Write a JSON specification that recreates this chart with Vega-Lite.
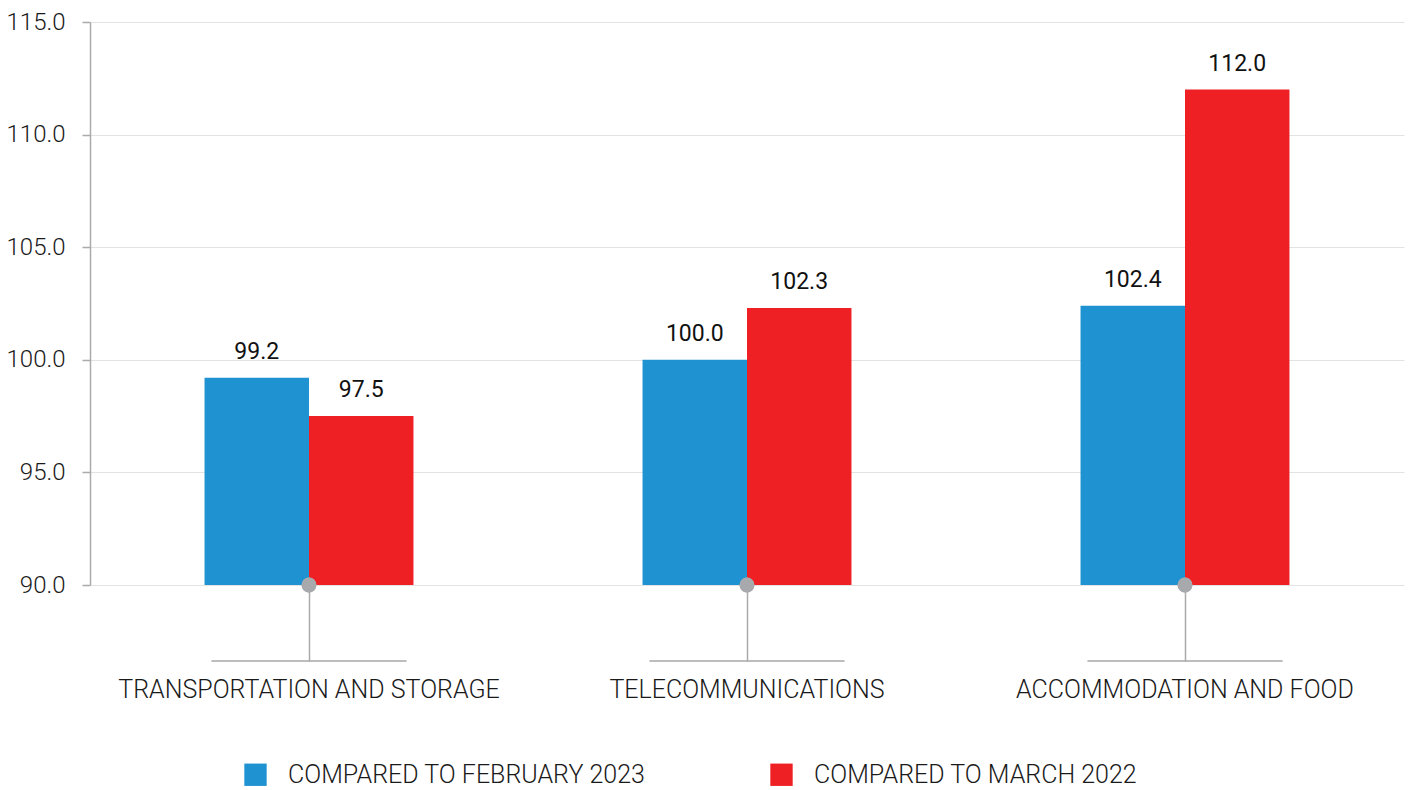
{
  "$schema": "https://vega.github.io/schema/vega-lite/v6.json",
  "autosize": "none",
  "width": 1314,
  "height": 563,
  "padding": {"left": 90, "top": 22, "right": 4, "bottom": 205},
  "background": "white",
  "config": {
    "view": {"stroke": null},
    "font": "Roboto",
    "axis": {"labelFont": "Roboto", "labelFontWeight": 300, "labelColor": "#1a1a1a"}
  },
  "data": {
    "values": [
      {"cat": "TRANSPORTATION AND STORAGE", "series": "COMPARED TO FEBRUARY 2023", "value": 99.2},
      {"cat": "TRANSPORTATION AND STORAGE", "series": "COMPARED TO MARCH 2022", "value": 97.5},
      {"cat": "TELECOMMUNICATIONS", "series": "COMPARED TO FEBRUARY 2023", "value": 100.0},
      {"cat": "TELECOMMUNICATIONS", "series": "COMPARED TO MARCH 2022", "value": 102.3},
      {"cat": "ACCOMMODATION AND FOOD", "series": "COMPARED TO FEBRUARY 2023", "value": 102.4},
      {"cat": "ACCOMMODATION AND FOOD", "series": "COMPARED TO MARCH 2022", "value": 112.0}
    ]
  },
  "encoding": {
    "x": {
      "field": "cat", "type": "nominal", "sort": null, "title": null,
      "scale": {"paddingInner": 0.523, "paddingOuter": 0.2615},
      "axis": {"domain": false, "ticks": true, "tickSize": 76, "tickColor": "#aaaaaa", "tickWidth": 1.5, "labelAngle": 0, "labelFontSize": 25, "labelPadding": 16, "grid": false, "labelLimit": 500}
    }
  },
  "layer": [
    {
      "mark": {"type": "bar", "clip": true},
      "encoding": {
        "xOffset": {"field": "series", "type": "nominal"},
        "y": {
          "field": "value", "type": "quantitative",
          "scale": {"domain": [90, 115], "zero": false, "nice": false},
          "title": null,
          "axis": {"values": [90, 95, 100, 105, 110, 115], "format": ".1f", "labelFontSize": 24, "labelPadding": 17, "tickSize": 8, "tickColor": "#aaaaaa", "domainColor": "#aaaaaa", "domainWidth": 1.5, "tickWidth": 1.5, "gridColor": "#e3e3e3", "gridWidth": 1.2}
        },
        "color": {
          "field": "series", "type": "nominal", "title": null,
          "scale": {"range": ["#1f93d1", "#ee2024"]},
          "legend": {"orient": "none", "legendX": 153, "legendY": 740, "direction": "horizontal", "symbolType": "square", "symbolSize": 500, "symbolStrokeWidth": 0, "labelFontSize": 25, "labelFont": "Roboto", "labelFontWeight": 300, "labelColor": "#1a1a1a", "columnPadding": 123, "labelOffset": 20, "labelLimit": 500}
        }
      }
    },
    {
      "mark": {"type": "text", "baseline": "bottom", "dy": -14, "fontSize": 23, "fontWeight": 400, "color": "#111111"},
      "encoding": {
        "xOffset": {"field": "series", "type": "nominal"},
        "y": {"field": "value", "type": "quantitative"},
        "text": {"field": "value", "type": "quantitative", "format": ".1f"}
      }
    },
    {
      "mark": {"type": "tick", "orient": "horizontal", "size": 195, "thickness": 1.5, "color": "#aaaaaa", "clip": false},
      "encoding": {"y": {"datum": 86.62}}
    },
    {
      "mark": {"type": "point", "filled": true, "size": 220, "color": "#a7a9ac", "opacity": 1, "clip": false},
      "encoding": {"y": {"datum": 90}}
    }
  ]
}
